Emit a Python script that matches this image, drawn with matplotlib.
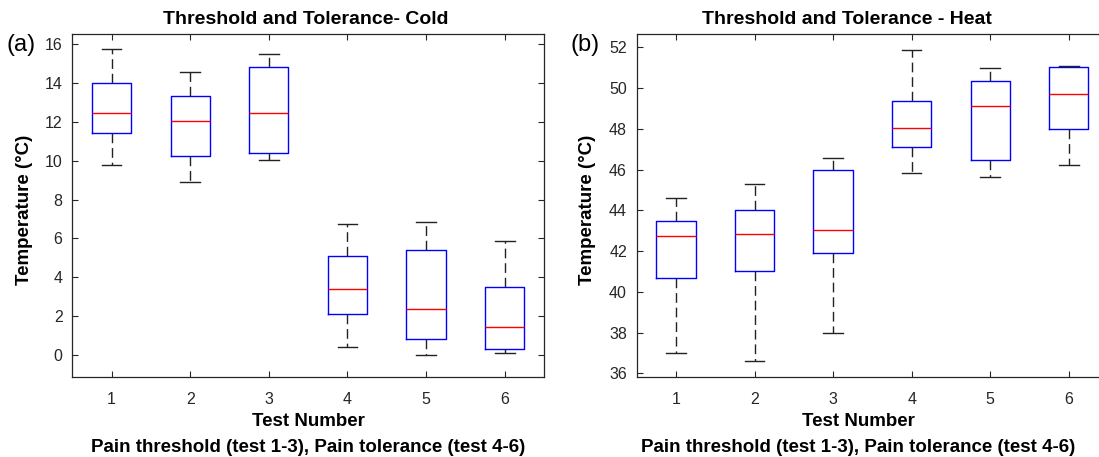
import matplotlib
matplotlib.use("Agg")
import matplotlib.pyplot as plt

plt.rcParams['font.family'] = ['Liberation Sans', 'DejaVu Sans']

tests = [1, 2, 3, 4, 5, 6]
tick_labels = ['1', '2', '3', '4', '5', '6']

# Cold: whisker low, Q1, median, Q3, whisker high
cold_low = [9.79, 8.89, 10.06, 0.41, 0.02, 0.09]
cold_q1 = [11.42, 10.25, 10.41, 2.10, 0.81, 0.31]
cold_med = [12.44, 12.04, 12.44, 3.39, 2.37, 1.43]
cold_q3 = [14.00, 13.33, 14.80, 5.07, 5.40, 3.49]
cold_high = [15.74, 14.57, 15.48, 6.76, 6.86, 5.87]

# Heat
heat_low = [36.98, 36.61, 37.98, 45.84, 45.65, 46.24]
heat_q1 = [40.67, 41.04, 41.90, 47.09, 46.45, 48.00]
heat_med = [42.75, 42.86, 43.03, 48.05, 49.12, 49.71]
heat_q3 = [43.48, 44.02, 46.00, 49.38, 50.35, 51.03]
heat_high = [44.61, 45.30, 46.55, 51.89, 50.98, 51.10]

W, H = 1099, 457
fig = plt.figure(figsize=(W / 100, H / 100), dpi=100)


def make_axes(left, right, top, bottom):
    return fig.add_axes([left / W, 1 - bottom / H, (right - left) / W, (bottom - top) / H])


def ftext(x, y, s, **kw):
    fig.text(x / W, 1 - y / H, s, **kw)


def draw(ax, lo, q1, med, q3, hi, ylim, yticks, title, title_x, label_x,
         ylabel_x, panel, panel_x):
    stats = []
    for i in range(len(tests)):
        stats.append(dict(whislo=lo[i], q1=q1[i], med=med[i], q3=q3[i],
                          whishi=hi[i], fliers=[], label=tick_labels[i]))
    ax.bxp(stats, positions=tests, widths=0.5, capwidths=0.25, showfliers=False,
           boxprops=dict(color='#0000ff', linewidth=1.0),
           medianprops=dict(color='#ff0000', linewidth=1.0),
           whiskerprops=dict(color='#222222', linewidth=1.0, linestyle=(0, (7, 3.5))),
           capprops=dict(color='#222222', linewidth=1.0))
    ax.set_xlim(0.5, 6.5)
    ax.set_ylim(*ylim)
    ax.set_yticks(yticks)
    ax.set_xticks(tests)
    ax.set_xticklabels(tick_labels)
    ax.tick_params(direction='in', top=True, right=True, labelsize=11.5,
                   colors='#262626', length=4, width=0.8)
    ax.tick_params(axis='x', pad=11)
    ax.tick_params(axis='y', pad=7)
    for s in ax.spines.values():
        s.set_color('#262626')
        s.set_linewidth(0.9)
    ftext(title_x, 19, title, fontsize=14, fontweight='bold', ha='center', va='center')
    ftext(ylabel_x, 210, 'Temperature (°C)', fontsize=13.5, fontweight='bold',
          ha='center', va='center', rotation=90)
    ftext(label_x, 421, 'Test Number', fontsize=13.5, fontweight='bold',
          ha='center', va='center')
    ftext(label_x, 447, 'Pain threshold (test 1-3), Pain tolerance (test 4-6)',
          fontsize=13.5, fontweight='bold', ha='center', va='center')
    ftext(panel_x, 45, panel, fontsize=17, va='center', ha='left')


ax1 = make_axes(72.3, 544, 34, 376.7)
draw(ax1, cold_low, cold_q1, cold_med, cold_q3, cold_high,
     (-1.12, 16.52), range(0, 17, 2), 'Threshold and Tolerance- Cold', 306, 308, 25,
     '(a)', 7)

ax2 = make_axes(636.7, 1108, 34, 376.7)
draw(ax2, heat_low, heat_q1, heat_med, heat_q3, heat_high,
     (35.83, 52.66), range(36, 53, 2), 'Threshold and Tolerance - Heat', 847, 858, 588,
     '(b)', 570)

fig.savefig('out.png', dpi=100)
